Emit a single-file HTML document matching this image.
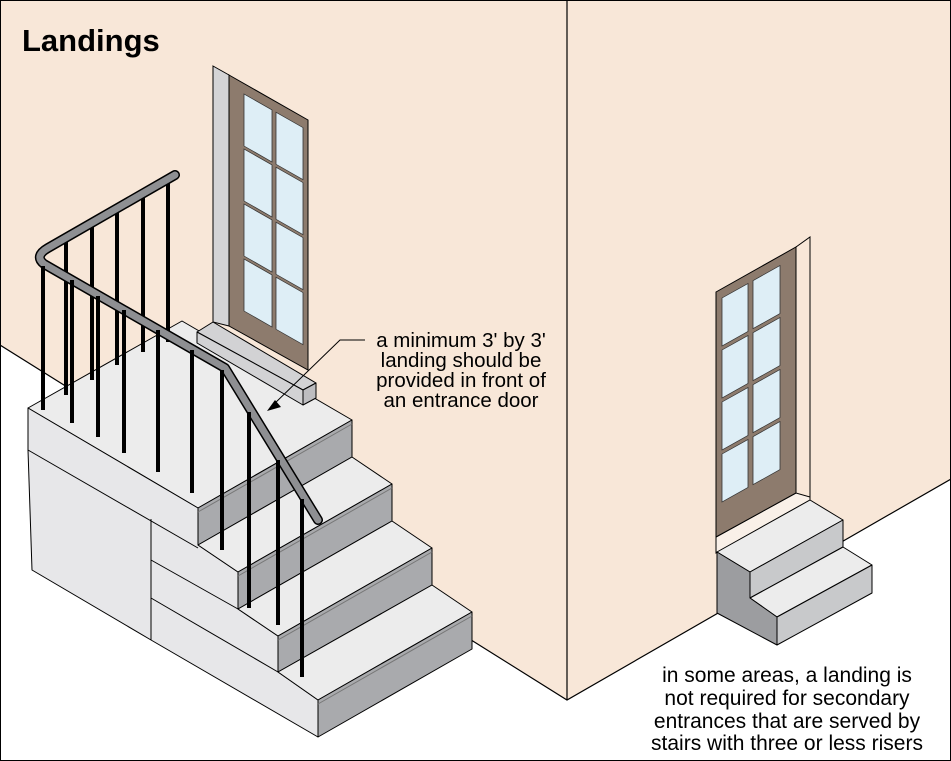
<!DOCTYPE html>
<html><head><meta charset="utf-8"><style>
html,body{margin:0;padding:0;background:#fff}
svg{display:block}
text{font-family:"Liberation Sans",Arial,sans-serif;fill:#000}
</style></head><body>
<svg width="951" height="761" viewBox="0 0 951 761" xmlns="http://www.w3.org/2000/svg">
<rect x="0" y="0" width="951" height="761" fill="#f8e7d8"/>
<polygon points="0,345 567,700 951,479 951,761 0,761" fill="#fff"/>
<polyline points="0,345 567,700 951,479" fill="none" stroke="#000" stroke-width="1.2"/>
<line x1="567" y1="0" x2="567" y2="700" stroke="#000" stroke-width="1.2"/>

<text x="22" y="51" font-size="31" font-weight="bold">Landings</text>

<!-- left door -->
<polygon points="213,66 229,75 229,326 213,322" fill="#d4d4d6" stroke="#000" stroke-width="1"/>
<polygon points="229,75 308,120 308,370 229,326" fill="#8d7b6d" stroke="#000" stroke-width="1"/>
<g transform="matrix(1,0.57,0,1,0,-139.08)" fill="#deeef6" stroke="#333" stroke-width="0.8">
<rect x="244" y="94" width="28" height="52"/><rect x="244" y="149" width="28" height="52"/>
<rect x="244" y="204" width="28" height="52"/><rect x="244" y="259" width="28" height="52"/>
<rect x="276" y="94" width="27" height="52"/><rect x="276" y="149" width="27" height="52"/>
<rect x="276" y="204" width="27" height="52"/><rect x="276" y="259" width="27" height="52"/>
</g>

<!-- landing + stairs -->
<g stroke="#000" stroke-width="1" stroke-linejoin="round">
<polygon points="28,408 182,321 352,420 198,508" fill="#ececec"/>
<polygon points="197,332 213,322 316,383 303,390" fill="#d2d2d4"/>
<polygon points="197,332 303,390 303,405 197,343" fill="#d2d2d4"/>
<polygon points="303,390 316,383 316,398 303,405" fill="#bdbdc0"/>
<polygon points="28,408 198,508 198,545 238,572 238,609 278,636 278,672 318,700 318,737 151,640 32,570 28,450" fill="#e7e7e9"/>
<line x1="28" y1="450" x2="198" y2="548"/>
<line x1="151" y1="519" x2="151" y2="640"/>
<line x1="151" y1="560" x2="238" y2="609"/>
<line x1="151" y1="598" x2="278" y2="672"/>
<polygon points="198,508 352,420 352,457 198,545" fill="#a9aaad"/>
<polygon points="198,545 352,457 392,484 238,572" fill="#ececec"/>
<polygon points="238,572 392,484 392,521 238,609" fill="#a9aaad"/>
<polygon points="238,609 392,521 432,548 278,636" fill="#ececec"/>
<polygon points="278,636 432,548 432,585 278,672" fill="#a9aaad"/>
<polygon points="278,672 432,585 472,612 318,700" fill="#ececec"/>
<polygon points="318,700 472,612 472,649 318,737" fill="#a9aaad"/>
</g>
<g stroke="#777" stroke-width="1">
<line x1="198" y1="512" x2="352" y2="424"/>
<line x1="238" y1="576" x2="392" y2="488"/>
<line x1="278" y1="640" x2="432" y2="552"/>
<line x1="318" y1="704" x2="472" y2="616"/>
</g>

<!-- callout -->
<polyline points="365,340 340,340 272,406" fill="none" stroke="#000" stroke-width="1"/>
<polygon points="267,411 281,407 275,400" fill="#000"/>
<g font-size="20.5" text-anchor="middle">
<text x="461" y="347">a minimum 3' by 3'</text>
<text x="461" y="367">landing should be</text>
<text x="461" y="387">provided in front of</text>
<text x="461" y="407">an entrance door</text>
</g>

<!-- back balusters -->
<g stroke="#000" stroke-width="4">
<line x1="66" y1="238" x2="66" y2="395"/>
<line x1="92" y1="223" x2="92" y2="380"/>
<line x1="117" y1="209" x2="117" y2="365"/>
<line x1="143" y1="194" x2="143" y2="352"/>
<line x1="168" y1="179" x2="168" y2="342"/>
</g>
<path d="M175,175 L48,248 Q34,256 44,264 L225,368 L318,520" fill="none" stroke="#000" stroke-width="10" stroke-linecap="round" stroke-linejoin="round"/>
<path d="M175,175 L48,248 Q34,256 44,264 L225,368 L318,520" fill="none" stroke="#8e8f92" stroke-width="7" stroke-linecap="round" stroke-linejoin="round"/>
<g stroke="#000" stroke-width="4">
<line x1="43" y1="266" x2="43" y2="410"/>
<line x1="72" y1="280" x2="72" y2="423"/>
<line x1="98" y1="296" x2="98" y2="437"/>
<line x1="124" y1="310" x2="124" y2="453"/>
<line x1="158" y1="330" x2="158" y2="472"/>
<line x1="192" y1="350" x2="192" y2="493"/>
<line x1="222" y1="370" x2="222" y2="550"/>
<line x1="249" y1="412" x2="249" y2="608"/>
<line x1="278" y1="460" x2="278" y2="625"/>
<line x1="302" y1="499" x2="302" y2="677"/>
</g>

<!-- right door -->
<polygon points="716,537 796,493 810,497 810,500 716,553" fill="#f9f0e8" stroke="#000" stroke-width="1"/>
<polyline points="796,247 810,237 810,500" fill="none" stroke="#000" stroke-width="1"/>
<polygon points="716,292 796,247 796,493 716,537" fill="#8d7b6d" stroke="#000" stroke-width="1"/>
<g transform="matrix(1,-0.56,0,1,0,404.32)" fill="#deeef6" stroke="#333" stroke-width="0.8">
<rect x="722" y="298" width="26" height="48"/><rect x="722" y="350" width="26" height="48"/>
<rect x="722" y="402" width="26" height="48"/><rect x="722" y="454" width="26" height="48"/>
<rect x="753" y="298" width="27" height="48"/><rect x="753" y="350" width="27" height="48"/>
<rect x="753" y="402" width="27" height="48"/><rect x="753" y="454" width="27" height="48"/>
</g>
<g stroke="#000" stroke-width="1" stroke-linejoin="round">
<polygon points="717,552 810,500 843,520 750,572" fill="#ececec"/>
<polygon points="750,572 843,520 843,547 750,598" fill="#c8c9cb"/>
<polygon points="750,598 843,547 872,565 777,617" fill="#ececec"/>
<polygon points="777,617 872,565 872,593 777,645" fill="#c8c9cb"/>
<polygon points="717,552 750,572 750,598 777,617 777,645 717,613" fill="#9c9da0"/>
</g>
<g font-size="21" text-anchor="middle">
<text x="787" y="682">in some areas, a landing is</text>
<text x="787" y="705">not required for secondary</text>
<text x="787" y="728">entrances that are served by</text>
<text x="787" y="750">stairs with three or less risers</text>
</g>
<rect x="0.5" y="0.5" width="950" height="760" fill="none" stroke="#000" stroke-width="1"/>
</svg>
</body></html>
